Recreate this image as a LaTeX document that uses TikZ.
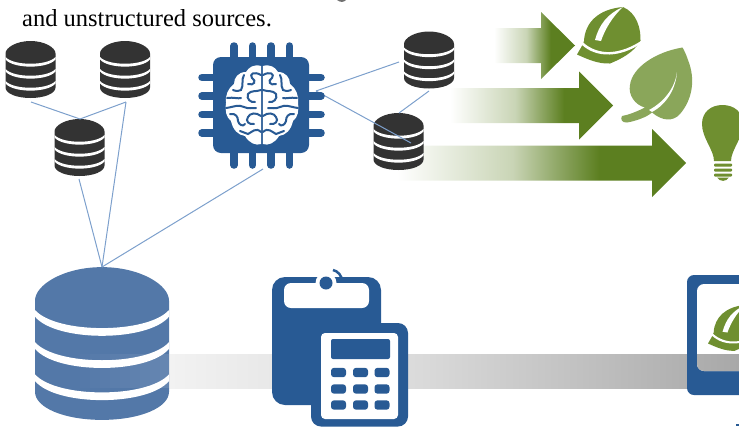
\documentclass[tikz,border=0pt]{standalone}
\usepackage{xcolor}
\usepackage{fontspec}
\setmainfont{Liberation Serif}
\definecolor{dbdark}{HTML}{333333}
\definecolor{dbblue}{HTML}{5378A8}
\definecolor{chipblue}{HTML}{285A94}
\definecolor{linkblue}{HTML}{7DA0CC}
\definecolor{arrowgreen}{HTML}{5C7F20}
\definecolor{hatgreen}{HTML}{6F8F30}
\definecolor{leafgreen}{HTML}{8AA65A}
\pgfdeclarehorizontalshading{arrowfade}{100bp}{color(0bp)=(white); color(25bp)=(white);
  color(45bp)=(arrowgreen!33!white); color(52bp)=(arrowgreen!65!white);
  color(60bp)=(arrowgreen); color(100bp)=(arrowgreen)}
\definecolor{bandone}{HTML}{F2F2F2}
\definecolor{bandtwo}{HTML}{DADADA}
\definecolor{bandthree}{HTML}{A8A8A8}
\pgfdeclarehorizontalshading{bandfade}{100bp}{color(0bp)=(bandone); color(25bp)=(bandone);
  color(47bp)=(bandtwo); color(75bp)=(bandthree); color(100bp)=(bandthree)}

\tikzset{
  link/.style={linkblue, line width=1pt},
  pics/db/.style={code={
    \fill[#1] (-25,-16) .. controls (-25,-22) and (-14,-28.5) .. (0,-28.5)
      .. controls (14,-28.5) and (25,-22) .. (25,-16) -- (25,18)
      .. controls (25,24) and (14,28.5) .. (0,28.5)
      .. controls (-14,28.5) and (-25,24) .. (-25,18) -- cycle;
    \foreach \t in {-12.5,-0.5,11.5}
      \fill[white] (-25,\t) .. controls (-17,\t+9) and (17,\t+9) .. (25,\t)
        -- (25,\t+2.5) .. controls (17,\t+12) and (-17,\t+12) .. (-25,\t+2.5) -- cycle;
  }},
  pics/hat/.style={code={
    \fill[hatgreen] (0,47.5) .. controls (3,42) and (6,38) .. (7,34)
      .. controls (8,15) and (22,2) .. (46,0) .. controls (60,6) and (64,22) .. (63.5,34)
      .. controls (56,46) and (44,52) .. (33,56.5) .. controls (22,57) and (12,53) .. (0,47.5) -- cycle;
    \fill[white] (5.5,35) .. controls (22,50) and (44,47) .. (64,34)
      -- (64,36.5) .. controls (44,50) and (20,52) .. (4.5,37.5) -- cycle;
    \fill[white] (18,33) .. controls (22,18) and (30,7) .. (46,0)
      .. controls (36,9) and (28,22) .. (24,34) -- cycle;
  }},
  pics/brainhalf/.style={code={
    \fill[white] (0.9,-39) .. controls (8,-41) and (13,-38) .. (16,-33)
      .. controls (24,-33) and (28,-27) .. (28,-21) .. controls (34,-17) and (37,-9) .. (36,-2)
      .. controls (37,6) and (36,12) .. (31,16) .. controls (29,25) and (24,30) .. (17,31)
      .. controls (13,38) and (6,41) .. (0.9,39) -- cycle;
    \draw[chipblue, line width=2pt, line cap=round]
      (1,-30) .. controls (8,-34) and (13,-31) .. (10,-27) .. controls (5,-24) and (8,-19) .. (14,-21)
      (18,-30) .. controls (21,-25) and (18,-20) .. (21,-15) .. controls (25,-13) and (29,-15) .. (29,-15)
      (1,-15) .. controls (6,-13) and (11,-15) .. (14,-11) .. controls (16,-6) and (11,-2) .. (7,-3)
      (35,-7) .. controls (28,-8) and (24,-6) .. (21,-7)
      (36,3) .. controls (28,2) and (24,-1) .. (18,2) .. controls (14,4) and (9,3) .. (6,3)
      (1,11) .. controls (6,7) and (12,8) .. (14,12) .. controls (17,16) and (13,20) .. (8,19)
      (32,9) .. controls (26,8) and (24,12) .. (24,16) .. controls (23,20) and (19,22) .. (17,19)
      (1,27) .. controls (6,22) and (10,27) .. (14,29) .. controls (17,29) and (19,26) .. (22,26);
  }},
  pics/brain/.style={code={
    \pic {brainhalf};
    \pic[xscale=-1] {brainhalf};
  }}
}

\newcommand{\fadearrow}[6]{% x0, xhead, xtip, ymid, half shaft, half head
  \shade[shading=arrowfade] (#1,#4-#5) -- (#2,#4-#5) -- (#2,#4-#6) -- (#3,#4) -- (#2,#4+#6)
    -- (#2,#4+#5) -- (#1,#4+#5) -- cycle;
}

\begin{document}
\begin{tikzpicture}[x=1pt, y=-1pt]
\useasboundingbox (0,0) rectangle (739,426);
\begin{scope}
\clip (0,0) rectangle (739,426);

% arrows
\fadearrow{494}{541}{575}{45.5}{17.5}{33.5}
\fadearrow{450}{579}{613}{105.5}{17.5}{34}
\fadearrow{397}{652}{686}{163}{17.5}{34}

% grey band
\shade[shading=bandfade] (169,354) rectangle (739,388);

% links
\coordinate (top) at (102,267);
\coordinate (dbaout) at (31,102);
\coordinate (dbbout) at (126,102);
\coordinate (dbcin) at (80,119);
\coordinate (dbcout) at (79,179);
\coordinate (chipout) at (263,169);
\coordinate (chipin) at (316,91);
\coordinate (dbdin) at (399,62);
\coordinate (dbeend) at (411,143);
\coordinate (dbdout) at (429,91);
\coordinate (dbein) at (399,113);

% databases
\pic at (30.5,69.5) {db=dbdark};
\pic at (125,69.5) {db=dbdark};
\pic at (79.5,147.5) {db=dbdark};
\pic at (429,60) {db=dbdark};
\pic at (398.5,141.5) {db=dbdark};
\pic[scale=2.68] at (102,343.5) {db=dbblue};
\foreach \i in {0,...,9}
  \fill[white, opacity=0.012*\i] (70+10*\i,354) rectangle (80+10*\i,388);

\draw[link] (dbaout) -- (dbcin);
\draw[link] (dbbout) -- (dbcin);
\draw[link] (dbbout) -- (top);
\draw[link] (dbcout) -- (top);
\draw[link] (chipout) -- (top);
\draw[link] (chipin) -- (dbdin);
\draw[link] (chipin) -- (dbeend);
\draw[link] (dbdout) -- (dbein);

% chip
\foreach \x in {234,252.5,271,289.5}
  \draw[chipblue, line width=7.5pt, line cap=round] (\x,46) -- (\x,165);
\foreach \y in {77.5,96,114.5,133}
  \draw[chipblue, line width=7.5pt, line cap=round] (202,\y) -- (321,\y);
\fill[chipblue, rounded corners=8pt] (213,57) rectangle (309,153);
\pic at (262,105) {brain};

% clipboard and calculator
\fill[chipblue, rounded corners=13pt] (272,277) rectangle (381,405);
\fill[white, rounded corners=7pt] (284,283) -- (369,283) -- (369,308) -- (284,308) -- cycle;
\fill[white] (326,283) circle (10.5);
\fill[chipblue] (326,283) circle (6.5);
\draw[chipblue, line width=2.5pt] (333,270) .. controls (338,271) and (342,276) .. (342,281);
\fill[chipblue, rounded corners=10pt] (311,323) rectangle (408,426.5);
\fill[white, rounded corners=4pt] (321,333) rectangle (398,419);
\fill[chipblue, rounded corners=2pt] (331,339) rectangle (390,359);
\foreach \x in {338.5,360.5,382}
  \foreach \y in {372.5,389,405}
    \fill[chipblue, rounded corners=3pt] (\x-7.5,\y-4.7) rectangle (\x+7.5,\y+4.7);

% tablet
\fill[chipblue, rounded corners=7pt] (687,275) rectangle (760,395);
\fill[white, rounded corners=7pt] (697,284) rectangle (760,371);
\begin{scope}
\clip[rounded corners=7pt] (697,284) rectangle (760,371);
\shade[shading=bandfade] (169,354) rectangle (739,388);
\end{scope}
\pic[scale=0.81] at (708,305) {hat};

% icons
\pic at (577,7) {hat};
\fill[leafgreen] (682.5,47.5) .. controls (655,52) and (632,68) .. (630,85)
  .. controls (628,95) and (635,105) .. (645,107.5) .. controls (636,112) and (628,115) .. (622,116)
  .. controls (620,119) and (622,123) .. (627,122.5) .. controls (636,121) and (647,117) .. (652,112.5)
  .. controls (662,121) and (673,122) .. (680,114) .. controls (692,100) and (696,80) .. (688,60)
  .. controls (686,54) and (684,50) .. (682.5,47.5) -- cycle;
\fill[white] (649,110) .. controls (664,102) and (675,88) .. (677,72)
  .. controls (676,88) and (667,104) .. (652,112) -- cycle;
\fill[hatgreen] (714,161) .. controls (714,150) and (702,138) .. (702,124)
  .. controls (702,112) and (711,105) .. (722.5,105) .. controls (734,105) and (743,112) .. (743,124)
  .. controls (743,138) and (731,150) .. (731,161) -- cycle;
\foreach \y in {163.5,168.5,173.5}
  \fill[hatgreen, rounded corners=1pt] (714,\y) rectangle (732,\y+3.2);
\fill[hatgreen] (717,177.5) .. controls (720,182) and (726,182) .. (729,177.5) -- cycle;

% cut-off scraps at the edges
\fill[dbdark!70!white] (337,0) -- (346,0) .. controls (344,2.5) and (340,2.5) .. (337,0) -- cycle;
\fill[chipblue] (736,424) rectangle (739,426);

\node[anchor=base west, inner sep=0pt, font=\fontsize{24.5}{28}\selectfont] (caption) at (22,26) {and unstructured sources.};
\end{scope}
\end{tikzpicture}
\end{document}
